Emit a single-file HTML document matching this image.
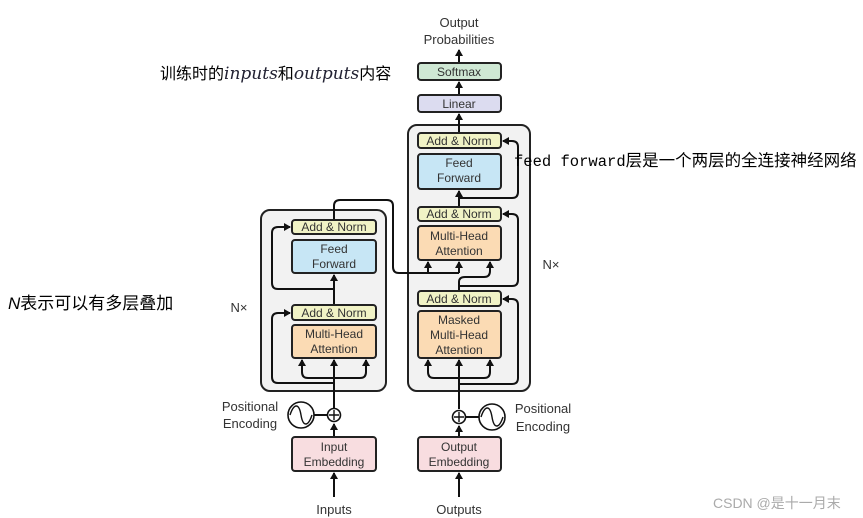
<!DOCTYPE html>
<html><head><meta charset="utf-8"><style>
html,body{margin:0;padding:0;background:#fff;}
body{width:863px;height:518px;overflow:hidden;position:relative;font-family:"Liberation Sans","Noto Sans CJK SC",sans-serif;}
.a{position:absolute;white-space:nowrap;color:#000;}
</style></head><body>
<svg width="863" height="518" style="position:absolute;left:0;top:0" font-family="Liberation Sans, sans-serif">
<defs><marker id="ar" markerWidth="8" markerHeight="8" refX="6" refY="4" orient="auto" markerUnits="userSpaceOnUse"><path d="M0,0 L7,4 L0,8 Z" fill="#111"/></marker></defs>
<rect x="261" y="210" width="125" height="181" rx="9" fill="#f2f2f2" stroke="#222" stroke-width="2"/>
<rect x="408" y="125" width="122" height="266" rx="9" fill="#f2f2f2" stroke="#222" stroke-width="2"/>
<g stroke="#111" stroke-width="2" fill="none">
<path d="M334 497 L334 473" marker-end="url(#ar)"/>
<path d="M334 437 L334 424" marker-end="url(#ar)"/>
<path d="M334 408 L334 360" marker-end="url(#ar)"/>
<path d="M334 378 L308 378 Q302 378 302 372 L302 360" marker-end="url(#ar)"/>
<path d="M334 378 L360 378 Q366 378 366 372 L366 360" marker-end="url(#ar)"/>
<path d="M334 383 L278 383 Q272 383 272 377 L272 319 Q272 313 278 313 L290 313" marker-end="url(#ar)"/>
<path d="M334 305 L334 275" marker-end="url(#ar)"/>
<path d="M334 289 L278 289 Q272 289 272 283 L272 233 Q272 227 278 227 L290 227" marker-end="url(#ar)"/>
<path d="M334 220 L334 206 Q334 200 340 200 L387 200 Q393 200 393 206 L393 267 Q393 273 399 273 L459 273"/>
<path d="M428 273 L428 262" marker-end="url(#ar)"/>
<path d="M459 273 L459 262" marker-end="url(#ar)"/>
<line x1="314" y1="415" x2="327" y2="415"/>
<path d="M459 497 L459 473" marker-end="url(#ar)"/>
<path d="M459 437 L459 426" marker-end="url(#ar)"/>
<path d="M459 409 L459 360" marker-end="url(#ar)"/>
<path d="M459 378 L434 378 Q428 378 428 372 L428 360" marker-end="url(#ar)"/>
<path d="M459 378 L484 378 Q490 378 490 372 L490 360" marker-end="url(#ar)"/>
<path d="M459 384 L512 384 Q518 384 518 378 L518 305 Q518 299 512 299 L503 299" marker-end="url(#ar)"/>
<path d="M459 291 L459 282 Q459 277 465 277 L484 277 Q490 277 490 271 L490 262" marker-end="url(#ar)"/>
<path d="M459 286 L512 286 Q518 286 518 280 L518 220 Q518 214 512 214 L503 214" marker-end="url(#ar)"/>
<path d="M459 207 L459 191" marker-end="url(#ar)"/>
<path d="M459 198 L512 198 Q518 198 518 192 L518 147 Q518 141 512 141 L503 141" marker-end="url(#ar)"/>
<path d="M459 133 L459 114" marker-end="url(#ar)"/>
<path d="M459 95 L459 82" marker-end="url(#ar)"/>
<path d="M459 63 L459 50" marker-end="url(#ar)"/>
<line x1="466" y1="417" x2="479" y2="417"/>
</g>
<g stroke="#111" stroke-width="1.6" fill="#fff">
<circle cx="334" cy="415" r="6.5"/><circle cx="459" cy="417" r="6.5"/>
<circle cx="301" cy="415" r="13"/><circle cx="492" cy="417" r="13"/>
</g>
<g stroke="#111" stroke-width="1.4" fill="none">
<path d="M329 415 H339 M334 410 V420 M454 417 H464 M459 412 V422"/>
<path d="M290 415 C294 403,299 403,301 415 C303 427,308 427,312 415"/>
<path d="M481 417 C485 405,490 405,492 417 C494 429,499 429,503 417"/>
</g>
<g stroke="#222" stroke-width="2">
<rect x="292" y="220" width="84" height="14" rx="3" fill="#f1f3c6"/>
<rect x="292" y="240" width="84" height="33" rx="3" fill="#c7e6f5"/>
<rect x="292" y="305" width="84" height="15" rx="3" fill="#f1f3c6"/>
<rect x="292" y="325" width="84" height="33" rx="3" fill="#fbdbb4"/>
<rect x="292" y="437" width="84" height="34" rx="3" fill="#f8dde0"/>
<rect x="418" y="133" width="83" height="15" rx="3" fill="#f1f3c6"/>
<rect x="418" y="154" width="83" height="35" rx="3" fill="#c7e6f5"/>
<rect x="418" y="207" width="83" height="14" rx="3" fill="#f1f3c6"/>
<rect x="418" y="226" width="83" height="34" rx="3" fill="#fbdbb4"/>
<rect x="418" y="291" width="83" height="15" rx="3" fill="#f1f3c6"/>
<rect x="418" y="311" width="83" height="47" rx="3" fill="#fbdbb4"/>
<rect x="418" y="437" width="83" height="34" rx="3" fill="#f8dde0"/>
<rect x="418" y="95" width="83" height="17" rx="3" fill="#dcdcf0"/>
<rect x="418" y="63" width="83" height="17" rx="3" fill="#cfe8d4"/>
</g>
<g font-size="12" fill="#333" text-anchor="middle">
<text x="334" y="231">Add &amp; Norm</text>
<text x="334" y="253">Feed</text><text x="334" y="268">Forward</text>
<text x="334" y="317">Add &amp; Norm</text>
<text x="334" y="338">Multi-Head</text><text x="334" y="353">Attention</text>
<text x="334" y="451">Input</text><text x="334" y="466">Embedding</text>
<text x="459" y="145">Add &amp; Norm</text>
<text x="459" y="167">Feed</text><text x="459" y="182">Forward</text>
<text x="459" y="218">Add &amp; Norm</text>
<text x="459" y="240">Multi-Head</text><text x="459" y="255">Attention</text>
<text x="459" y="303">Add &amp; Norm</text>
<text x="459" y="324">Masked</text><text x="459" y="339">Multi-Head</text><text x="459" y="354">Attention</text>
<text x="459" y="451">Output</text><text x="459" y="466">Embedding</text>
<text x="459" y="108">Linear</text>
<text x="459" y="76">Softmax</text>
<text x="459" y="27" font-size="13">Output</text><text x="459" y="44" font-size="13">Probabilities</text>
<text x="334" y="514" font-size="13">Inputs</text>
<text x="459" y="514" font-size="13">Outputs</text>
<text x="250" y="411" font-size="13">Positional</text><text x="250" y="428" font-size="13">Encoding</text>
<text x="543" y="413" font-size="13">Positional</text><text x="543" y="431" font-size="13">Encoding</text>
<text x="239" y="312" font-size="13">N×</text>
<text x="551" y="269" font-size="13">N×</text>
</g>
</svg>
<div class="a" style="left:160px;top:60px;font-size:16px;">训练时的<i style="font-family:'DejaVu Serif',serif;color:#223;font-size:17px;">inputs</i>和<i style="font-family:'DejaVu Serif',serif;color:#223;font-size:17px;">outputs</i>内容</div>
<div class="a" style="left:514px;top:147px;font-size:16.5px;"><span style="font-family:'Liberation Mono',monospace;font-size:15.5px;">feed forward</span>层是一个两层的全连接神经网络</div>
<div class="a" style="left:8px;top:289px;font-size:17px;"><i>N</i>表示可以有多层叠加</div>
<div class="a" style="left:713px;top:493px;font-size:14px;color:#aaa;">CSDN @是十一月末</div>
</body></html>
